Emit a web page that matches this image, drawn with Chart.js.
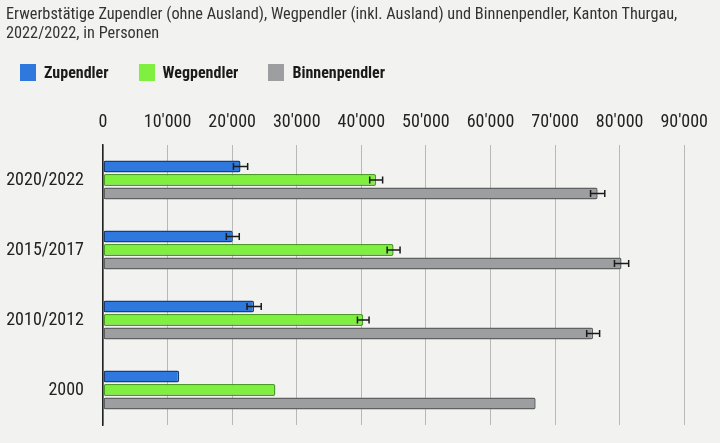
<!DOCTYPE html>
<html>
<head>
<meta charset="utf-8">
<script src="https://cdn.jsdelivr.net/npm/chart.js@4/dist/chart.umd.min.js"></script>
<style>
  html, body { margin: 0; padding: 0; background: #f2f2f1; }
  #wrap { width: 720px; height: 443px; position: relative; font-family: 'Roboto Condensed', 'Liberation Sans Narrow', Roboto, sans-serif; }
  #pendlerChart { position: absolute; left: 0; top: 0; }
  #title { position: absolute; left: 6px; top: 4px; font-size: 16.3px; line-height: 19px; color: #333; }
  #legend { position: absolute; left: 20px; top: 63px; display: flex; font-size: 16px; font-weight: bold; color: #1a1a1a; }
  .item { display: flex; align-items: center; margin-right: 30px; }
  .box { width: 16px; height: 17px; margin-right: 8px; }
</style>
</head>
<body>
<div id="wrap">
  <canvas id="pendlerChart" width="720" height="443"></canvas>
  <div id="title">Erwerbstätige Zupendler (ohne Ausland), Wegpendler (inkl. Ausland) und Binnenpendler, Kanton Thurgau,<br>2022/2022, in Personen</div>
  <div id="legend"></div>
</div>
<script>
const periods = ['2020/2022', '2015/2017', '2010/2012', '2000'];
const seriesNames = ['Zupendler', 'Wegpendler', 'Binnenpendler'];
const zupendler = [21300, 20100, 23400, 11800];
const wegpendler = [42300, 45000, 40300, 26700];
const binnenpendler = [76600, 80300, 75900, 67000];
// +/- error margins (none for 2000)
const zuErr = [1100, 1000, 1100, null];
const wegErr = [1000, 1000, 900, null];
const binnenErr = [1100, 1100, 1000, null];
const tickValues = [0, 10000, 20000, 30000, 40000, 50000, 60000, 70000, 80000, 90000];

const fills = ['#2f78de', '#80f040', '#9c9e9f'];
const borders = ['#1c3f72', '#4c9a2a', '#5e6061'];
const FONT = "'Roboto Condensed', 'Liberation Sans Narrow', Roboto, sans-serif";

// html legend
const legendEl = document.getElementById('legend');
seriesNames.forEach((name, i) => {
  const it = document.createElement('div');
  it.className = 'item';
  it.innerHTML = '<span class="box" style="background:' + fills[i] + '"></span><span>' + name + '</span>';
  legendEl.appendChild(it);
});

const errorBars = {
  id: 'errorBars',
  afterDatasetsDraw(chart) {
    const c = chart.ctx;
    const xs = chart.scales.x;
    c.save();
    c.strokeStyle = '#1a1a1a';
    c.lineWidth = 1.5;
    chart.data.datasets.forEach((ds, di) => {
      const meta = chart.getDatasetMeta(di);
      meta.data.forEach((bar, i) => {
        const e = ds.errors[i];
        if (e == null) return;
        const v = ds.data[i];
        const x1 = xs.getPixelForValue(v - e);
        const x2 = xs.getPixelForValue(v + e);
        const y = bar.y;
        c.beginPath();
        c.moveTo(x1, y); c.lineTo(x2, y);
        c.moveTo(x1, y - 3.5); c.lineTo(x1, y + 3.5);
        c.moveTo(x2, y - 3.5); c.lineTo(x2, y + 3.5);
        c.stroke();
      });
    });
    c.restore();
  }
};

const makeSet = (i, data, errors) => ({
  label: seriesNames[i], data: data, errors: errors,
  backgroundColor: fills[i], borderColor: borders[i],
  borderWidth: 1.5, borderRadius: 2, borderSkipped: false
});

const ctx = document.getElementById('pendlerChart').getContext('2d');
const chart = new Chart(ctx, {
  type: 'bar',
  data: {
    labels: periods,
    datasets: [
      makeSet(0, zupendler, zuErr),
      makeSet(1, wegpendler, wegErr),
      makeSet(2, binnenpendler, binnenErr)
    ]
  },
  options: {
    indexAxis: 'y',
    responsive: false,
    animation: false,
    layout: { padding: { left: 7, right: 14, top: 95, bottom: 18 } },
    datasets: { bar: { categoryPercentage: 0.58, barPercentage: 0.9 } },
    scales: {
      x: {
        position: 'top',
        min: 0, max: 90000,
        afterBuildTicks(axis) { axis.ticks = tickValues.map(v => ({ value: v })); },
        afterFit(scale) { scale.height = 50; },
        ticks: {
          color: '#222',
          font: { family: FONT, size: 18 },
          padding: 12,
          callback: v => String(v).replace(/\B(?=(\d{3})+(?!\d))/g, "'")
        },
        grid: { color: '#b8b8b8', lineWidth: 1, drawTicks: false },
        border: { display: false }
      },
      y: {
        // tick padding would otherwise be added above/below the plot too
        afterFit(scale) { scale.width = 96; scale.paddingTop = 0; scale.paddingBottom = 0; },
        ticks: { color: '#222', font: { family: FONT, size: 18 }, padding: 19 },
        grid: { display: false, drawTicks: false },
        border: { display: true, color: '#222', width: 1.5 }
      }
    },
    plugins: {
      legend: { display: false },
      tooltip: { enabled: false }
    }
  },
  plugins: [errorBars]
});
</script>
</body>
</html>
